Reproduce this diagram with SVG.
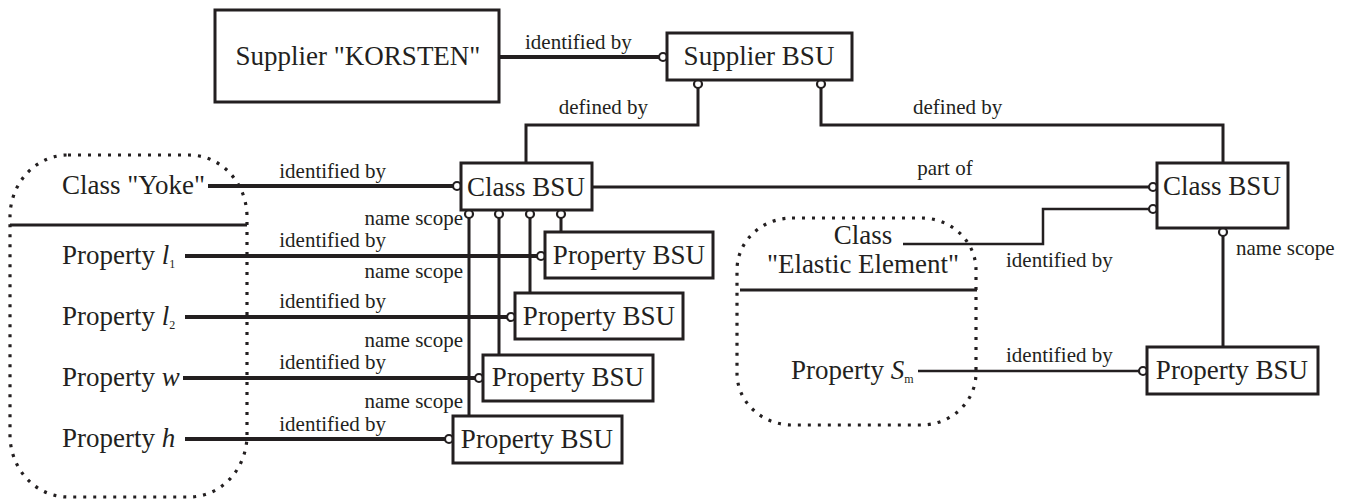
<svg xmlns="http://www.w3.org/2000/svg" width="1350" height="500" viewBox="0 0 1350 500">
<style>
text{font-family:'Liberation Serif','Times New Roman',Tinos,'DejaVu Serif',serif;fill:#231f20}
.box{fill:#fff;stroke:#231f20;stroke-width:3}
.t{font-size:27px}
.lbl{font-size:21px}
.sub{font-size:12px}
.it{font-style:italic}
.c{fill:#fff;stroke:#231f20;stroke-width:2.2}
.ln{fill:none;stroke:#231f20;stroke-width:3}
.thick{fill:none;stroke:#231f20;stroke-width:4}
.thin{fill:none;stroke:#231f20;stroke-width:2.5}
.dot{fill:none;stroke:#231f20;stroke-width:3.2;stroke-dasharray:3 7}
</style>
<rect width="1350" height="500" fill="#fff"/>

<g id="yoke-group" font-family="Liberation Serif, serif">
<rect class="dot" x="10" y="155" width="237" height="342" rx="58" ry="62"/>
<line class="ln" x1="10" y1="225" x2="247" y2="225"/>
<text class="t" x="62" y="194">Class "Yoke"</text>
<text class="t" x="62" y="264">Property <tspan class="it">l</tspan><tspan class="sub" dy="4">1</tspan></text>
<text class="t" x="62" y="325">Property <tspan class="it">l</tspan><tspan class="sub" dy="4">2</tspan></text>
<text class="t" x="62" y="386">Property <tspan class="it">w</tspan></text>
<text class="t" x="62" y="447">Property <tspan class="it">h</tspan></text>
</g>

<g id="elastic-group" font-family="Liberation Serif, serif">
<rect class="dot" x="737" y="218" width="239" height="207" rx="55" ry="52"/>
<line class="ln" x1="740" y1="290" x2="977" y2="290"/>
<text class="t" x="863" y="244" text-anchor="middle">Class</text>
<text class="t" x="863" y="273" text-anchor="middle">"Elastic Element"</text>
<text class="t" x="791" y="379">Property <tspan class="it">S</tspan><tspan class="sub" dy="4">m</tspan></text>
</g>

<g id="connectors" font-family="Liberation Serif, serif">
<path class="thick" d="M499 57H659"/>
<path class="ln" d="M698 88V125H526V163"/>
<path class="ln" d="M821 88V125H1223V163"/>
<path class="ln" d="M592 187H1149"/>
<path class="thin" d="M903 244H1043V209H1149"/>
<path class="ln" d="M1223 236V347"/>
<path class="thin" d="M918 371H1139"/>
<path class="ln" d="M469 218V416M499 218V355M530 218V293M561 218V232"/>
<path class="thick" d="M208 186H453M185 256H537M185 317H507M183 378H475M185 439H445"/>
<circle class="c" cx="663" cy="57" r="4"/>
<circle class="c" cx="698" cy="84" r="4"/>
<circle class="c" cx="821" cy="84" r="4"/>
<circle class="c" cx="457" cy="186" r="4"/>
<circle class="c" cx="469" cy="214" r="4"/>
<circle class="c" cx="499" cy="214" r="4"/>
<circle class="c" cx="530" cy="214" r="4"/>
<circle class="c" cx="561" cy="214" r="4"/>
<circle class="c" cx="1153" cy="187" r="4"/>
<circle class="c" cx="1153" cy="209" r="4"/>
<circle class="c" cx="1223" cy="232" r="4"/>
<circle class="c" cx="541" cy="256" r="4"/>
<circle class="c" cx="511" cy="317" r="4"/>
<circle class="c" cx="479" cy="378" r="4"/>
<circle class="c" cx="449" cy="439" r="4"/>
<circle class="c" cx="1143" cy="371" r="4"/>
<text class="lbl" x="525" y="49">identified by</text>
<text class="lbl" x="648" y="114" text-anchor="end">defined by</text>
<text class="lbl" x="913" y="114">defined by</text>
<text class="lbl" x="945" y="175" text-anchor="middle">part of</text>
<text class="lbl" x="1006" y="267">identified by</text>
<text class="lbl" x="1236" y="255">name scope</text>
<text class="lbl" x="1006" y="362">identified by</text>
<text class="lbl" x="386" y="178" text-anchor="end">identified by</text>
<text class="lbl" x="386" y="247" text-anchor="end">identified by</text>
<text class="lbl" x="386" y="308" text-anchor="end">identified by</text>
<text class="lbl" x="386" y="369" text-anchor="end">identified by</text>
<text class="lbl" x="386" y="431" text-anchor="end">identified by</text>
<text class="lbl" x="463" y="225" text-anchor="end">name scope</text>
<text class="lbl" x="463" y="278" text-anchor="end">name scope</text>
<text class="lbl" x="463" y="347" text-anchor="end">name scope</text>
<text class="lbl" x="463" y="408" text-anchor="end">name scope</text>
</g>

<g id="supplier-korsten" font-family="Liberation Serif, serif">
<rect class="box" x="215" y="10" width="284" height="92"/>
<text class="t" x="358" y="65" text-anchor="middle">Supplier "KORSTEN"</text>
</g>
<g id="supplier-bsu" font-family="Liberation Serif, serif">
<rect class="box" x="667" y="33" width="185" height="47"/>
<text class="t" x="759" y="65" text-anchor="middle">Supplier BSU</text>
</g>
<g id="class-bsu-yoke" font-family="Liberation Serif, serif">
<rect class="box" x="461" y="163" width="131" height="47"/>
<text class="t" x="526" y="196" text-anchor="middle">Class BSU</text>
</g>
<g id="class-bsu-elastic" font-family="Liberation Serif, serif">
<rect class="box" x="1157" y="163" width="131" height="65"/>
<text class="t" x="1222" y="195" text-anchor="middle">Class BSU</text>
</g>
<g id="property-bsu-l1" font-family="Liberation Serif, serif">
<rect class="box" x="545" y="232" width="168" height="46"/>
<text class="t" x="629" y="264" text-anchor="middle">Property BSU</text>
</g>
<g id="property-bsu-l2" font-family="Liberation Serif, serif">
<rect class="box" x="515" y="293" width="168" height="46"/>
<text class="t" x="599" y="325" text-anchor="middle">Property BSU</text>
</g>
<g id="property-bsu-w" font-family="Liberation Serif, serif">
<rect class="box" x="483" y="355" width="170" height="46"/>
<text class="t" x="568" y="386" text-anchor="middle">Property BSU</text>
</g>
<g id="property-bsu-h" font-family="Liberation Serif, serif">
<rect class="box" x="453" y="416" width="169" height="47"/>
<text class="t" x="537" y="448" text-anchor="middle">Property BSU</text>
</g>
<g id="property-bsu-sm" font-family="Liberation Serif, serif">
<rect class="box" x="1147" y="347" width="171" height="47"/>
<text class="t" x="1232" y="379" text-anchor="middle">Property BSU</text>
</g>
</svg>
